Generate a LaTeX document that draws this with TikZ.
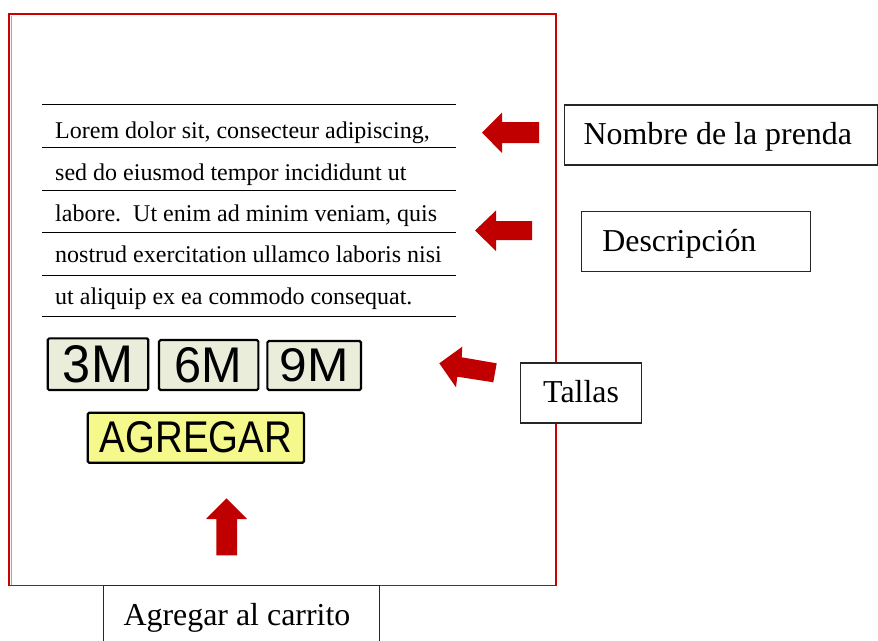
\documentclass[tikz,border=0pt]{standalone}
\usepackage{fontspec}
\setmainfont{Liberation Serif}
\setsansfont{Liberation Sans}
\usepackage{graphicx}
\definecolor{framered}{HTML}{CC0000}
\definecolor{arrowred}{HTML}{C00000}
\definecolor{sizefill}{HTML}{EBEDDB}
\definecolor{addfill}{HTML}{F5F88A}
\tikzset{
  frameline/.style={draw=framered, line width=1.8pt},
  rule/.style={draw=black, line width=1pt},
  para/.style={anchor=base west, inner sep=0pt, font=\fontsize{24}{28}\selectfont},
  blockarrow/.style={fill=arrowred, draw=none},
  btn/.style={draw=black, line width=2.2pt, rounded corners=1.5pt, inner sep=0pt},
  lbox/.style={draw=black!85, fill=white, line width=1.2pt, anchor=north west, inner ysep=0pt,
    text height=24pt, text depth=4pt, font=\fontsize{31.9}{36}\selectfont},
}
\begin{document}
\begin{tikzpicture}[x=1pt,y=-1pt]
\useasboundingbox (0,0) rectangle (878,640);
% page frame
\draw[frameline] (9,14) rectangle (556,585.5);
\draw[black!35, line width=0.8pt] (11.6,15.5) -- (11.6,584.5);
% rules
\foreach \yy in {104.5,147.5,190.5,232.5,275.5,316.5}
  \draw[rule] (42,\yy) -- (456,\yy);
% paragraph
\node[para] (l1) at (55,138.8) {Lorem dolor sit, consecteur adipiscing,};
\node[para] (l2) at (55,180) {sed do eiusmod tempor incididunt ut};
\node[para] (l3) at (55,221.4) {labore.\ \ Ut enim ad minim veniam, quis};
\node[para] (l4) at (55,262.8) {nostrud exercitation ullamco laboris nisi};
\node[para] (l5) at (55,304.2) {ut aliquip ex ea commodo consequat.};
% size buttons
\node[btn, fill=sizefill, minimum width=100.6pt, minimum height=51.7pt] (s3) at (98,364.2)
  {\resizebox{70pt}{37pt}{\sffamily 3M}};
\node[btn, fill=sizefill, minimum width=99.3pt, minimum height=50pt] (s6) at (208.7,365)
  {\resizebox{67.6pt}{35pt}{\sffamily 6M}};
\node[btn, fill=sizefill, minimum width=93.7pt, minimum height=49pt] (s9) at (314.2,365.5)
  {\resizebox{69pt}{33pt}{\sffamily 9M}};
\node[btn, fill=addfill, minimum width=216.3pt, minimum height=50pt] (add) at (195.9,437.7)
  {\resizebox{192pt}{31pt}{\sffamily AGREGAR}};
% block arrows
\fill[blockarrow] (482,132.5) -- (502,112.5) -- (502,122) -- (539,122) -- (539,143) -- (502,143) -- (502,153) -- cycle;
\fill[blockarrow] (475,230.5) -- (496,210.5) -- (496,221) -- (532,221) -- (532,240) -- (496,240) -- (496,251) -- cycle;
\fill[blockarrow] (439.3,363.3) -- (462.3,346.7) -- (461.7,357.3) -- (496.7,363.3) -- (493.3,382.3) -- (457.3,376.7) -- (456,387.3) -- cycle;
\fill[blockarrow] (226.5,498.3) -- (247,519) -- (237,519) -- (237,555.3) -- (216.4,555.3) -- (216.4,519) -- (206,519) -- cycle;
% labels
\node[lbox, inner xsep=19.5pt, minimum height=60pt] (nombre) at (563.5,104.3) {\makebox[274.5pt][l]{Nombre de la prenda}};
\node[lbox, inner xsep=20.7pt, minimum height=60.3pt] (desc) at (581,210.7) {\makebox[187.6pt][l]{Descripción}};
\node[lbox, inner xsep=10pt, minimum height=60pt] (tallas) at (520,362.3) {\makebox[101pt][c]{Tallas}};
\node[lbox, inner xsep=20pt, minimum height=75pt, text height=20pt, text depth=14pt] (cart) at (103,584.5) {\makebox[236pt][l]{Agregar al carrito}};
\end{tikzpicture}
\end{document}
